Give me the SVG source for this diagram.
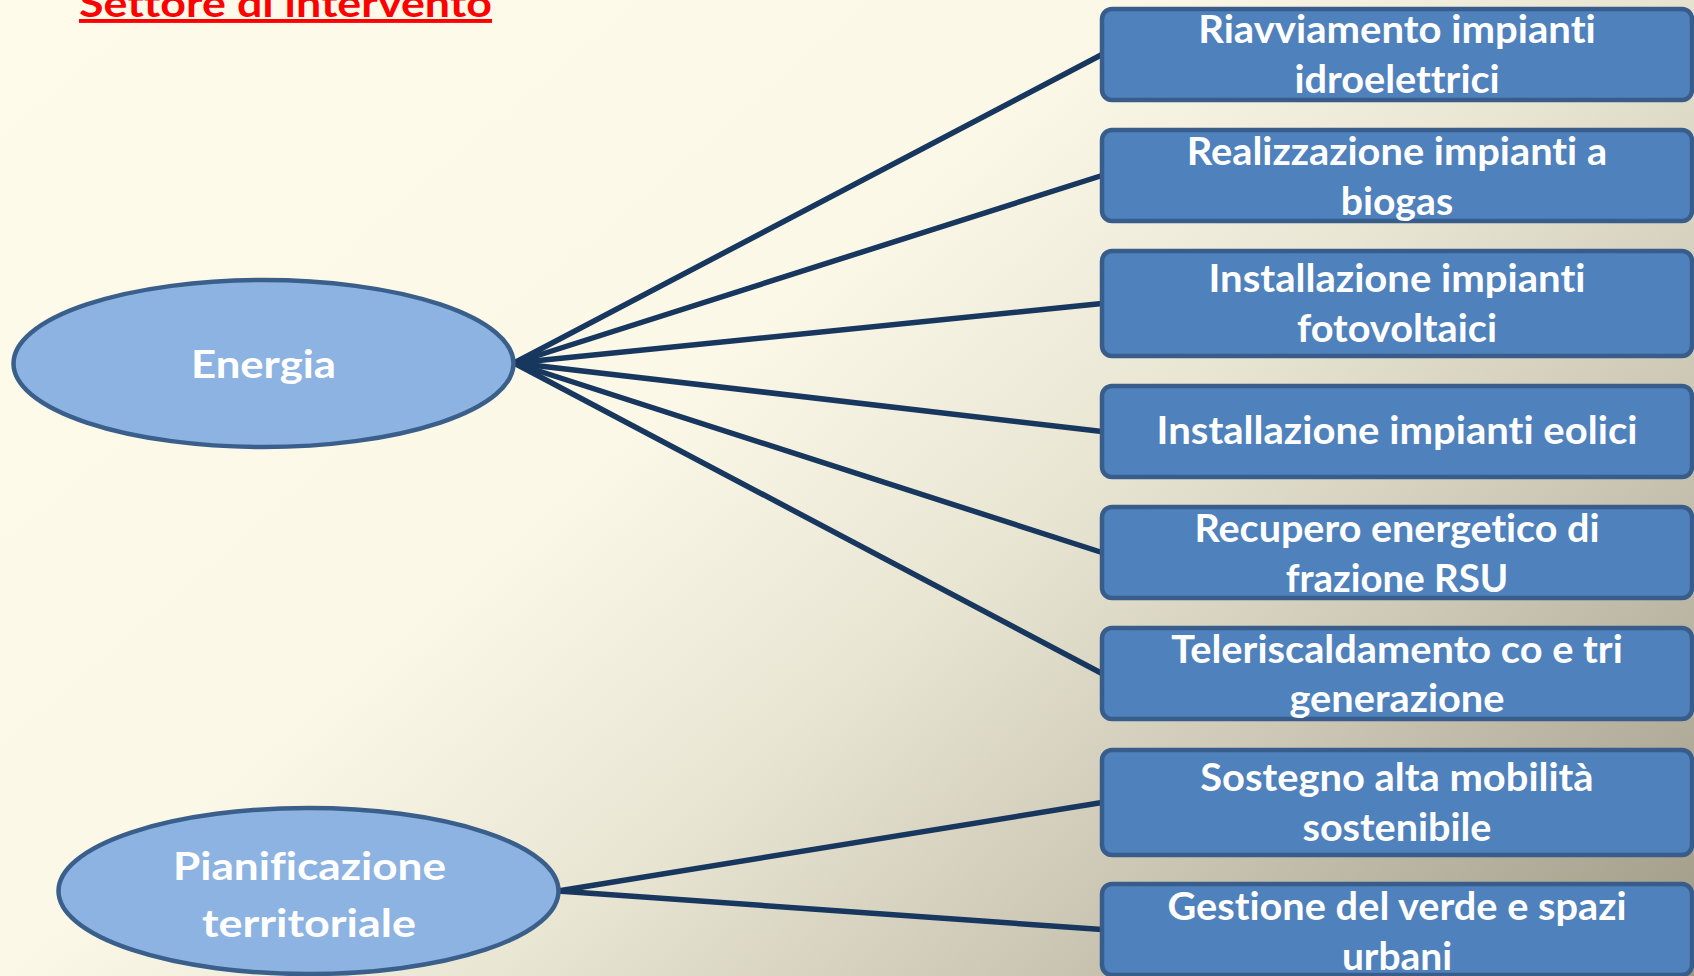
<svg xmlns="http://www.w3.org/2000/svg" width="1694" height="976" viewBox="0 0 1694 976">
<defs>
<linearGradient id="bg" gradientUnits="userSpaceOnUse" x1="0" y1="0" x2="1200" y2="1400">
<stop offset="0" stop-color="#FEFBEB"/>
<stop offset="0.4" stop-color="#FCF8E8"/>
<stop offset="0.58" stop-color="#E9E5D3"/>
<stop offset="0.76" stop-color="#CCC7B5"/>
<stop offset="1" stop-color="#9E9885"/>
</linearGradient>
<style>
.box{fill:#4F81BD;stroke:#385D8A;stroke-width:4.5}
.ell{fill:#8DB3E2;stroke:#3A5F8B;stroke-width:4.5}
.t{font-family:Lato,"Open Sans","Liberation Sans",sans-serif;font-weight:bold;font-size:39px;fill:#FFFFFF;font-variant-ligatures:none;font-feature-settings:"liga" 0,"clig" 0}
.title{font-family:Lato,"Open Sans","Liberation Sans",sans-serif;font-weight:bold;font-size:39px;fill:#FF0000;text-decoration:underline;font-variant-ligatures:none;font-feature-settings:"liga" 0,"clig" 0}
.con{stroke:#17375E;stroke-width:5.5;fill:none;stroke-linecap:round}
</style>
</defs>
<rect x="0" y="0" width="1694" height="976" fill="url(#bg)"/>
<text class="title" x="79" y="17" textLength="413" lengthAdjust="spacingAndGlyphs">Settore di intervento</text>
<g id="connectors">
<line class="con" x1="514" y1="363" x2="1102" y2="54.5"/>
<line class="con" x1="514" y1="363" x2="1102" y2="175.5"/>
<line class="con" x1="514" y1="363" x2="1102" y2="303.5"/>
<line class="con" x1="514" y1="363" x2="1102" y2="431.5"/>
<line class="con" x1="514" y1="363" x2="1102" y2="552.5"/>
<line class="con" x1="514" y1="363" x2="1102" y2="673.5"/>
<line class="con" x1="558" y1="891" x2="1102" y2="802.5"/>
<line class="con" x1="558" y1="891" x2="1102" y2="929.5"/>
</g>
<g id="energia">
<ellipse class="ell" cx="263.5" cy="363.5" rx="250" ry="83.5"/>
<text class="t" x="191" y="378" textLength="145" lengthAdjust="spacingAndGlyphs">Energia</text>
</g>
<g id="pianificazione">
<ellipse class="ell" cx="308.5" cy="891" rx="250" ry="83"/>
<text class="t" x="173" y="880" textLength="273" lengthAdjust="spacingAndGlyphs">Pianificazione</text>
<text class="t" x="202" y="937" textLength="214" lengthAdjust="spacingAndGlyphs">territoriale</text>
</g>
<g id="idroelettrici">
<rect class="box" x="1102" y="9" width="590" height="91" rx="10"/>
<text class="t" x="1198.2" y="43" textLength="397.6" lengthAdjust="spacingAndGlyphs">Riavviamento impianti</text>
<text class="t" x="1294.4" y="93" textLength="205.3" lengthAdjust="spacingAndGlyphs">idroelettrici</text>
</g>
<g id="biogas">
<rect class="box" x="1102" y="130" width="590" height="91" rx="10"/>
<text class="t" x="1186.8" y="165" textLength="420.3" lengthAdjust="spacingAndGlyphs">Realizzazione impianti a</text>
<text class="t" x="1340.8" y="215" textLength="112.4" lengthAdjust="spacingAndGlyphs">biogas</text>
</g>
<g id="fotovoltaici">
<rect class="box" x="1102" y="251" width="590" height="105" rx="10"/>
<text class="t" x="1208.5" y="292" textLength="377" lengthAdjust="spacingAndGlyphs">Installazione impianti</text>
<text class="t" x="1297" y="342" textLength="200" lengthAdjust="spacingAndGlyphs">fotovoltaici</text>
</g>
<g id="eolici">
<rect class="box" x="1102" y="386" width="590" height="91" rx="10"/>
<text class="t" x="1156.6" y="444" textLength="480.8" lengthAdjust="spacingAndGlyphs">Installazione impianti eolici</text>
</g>
<g id="rsu">
<rect class="box" x="1102" y="507" width="590" height="91" rx="10"/>
<text class="t" x="1194.4" y="542" textLength="405.2" lengthAdjust="spacingAndGlyphs">Recupero energetico di</text>
<text class="t" x="1285.7" y="592" textLength="222.6" lengthAdjust="spacingAndGlyphs">frazione RSU</text>
</g>
<g id="teleriscaldamento">
<rect class="box" x="1102" y="628" width="590" height="91" rx="10"/>
<text class="t" x="1171.2" y="663" textLength="451.6" lengthAdjust="spacingAndGlyphs">Teleriscaldamento co e tri</text>
<text class="t" x="1289.5" y="712" textLength="215" lengthAdjust="spacingAndGlyphs">generazione</text>
</g>
<g id="mobilita">
<rect class="box" x="1102" y="750" width="590" height="105" rx="10"/>
<text class="t" x="1200.3" y="791" textLength="393.3" lengthAdjust="spacingAndGlyphs">Sostegno alta mobilità</text>
<text class="t" x="1302.5" y="841" textLength="189" lengthAdjust="spacingAndGlyphs">sostenibile</text>
</g>
<g id="verde">
<rect class="box" x="1102" y="884" width="590" height="91" rx="10"/>
<text class="t" x="1167.4" y="920" textLength="459.2" lengthAdjust="spacingAndGlyphs">Gestione del verde e spazi</text>
<text class="t" x="1341.9" y="970" textLength="110.2" lengthAdjust="spacingAndGlyphs">urbani</text>
</g>
</svg>
